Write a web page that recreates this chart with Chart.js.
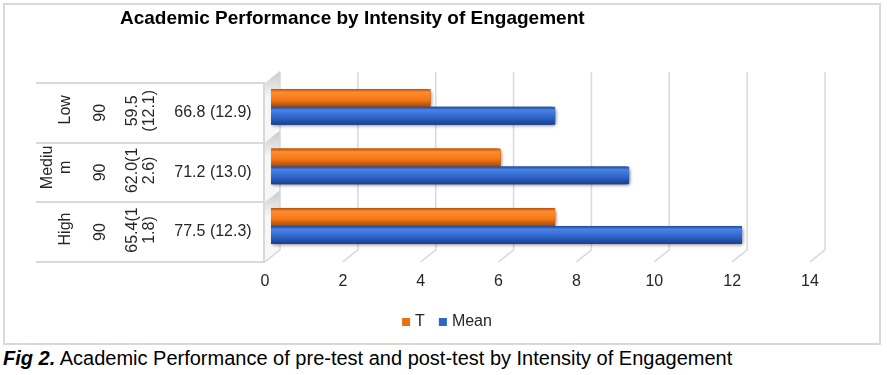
<!DOCTYPE html>
<html>
<head>
<meta charset="utf-8">
<script src="https://cdn.jsdelivr.net/npm/chart.js@4.4.0/dist/chart.umd.min.js"></script>
<style>
  body { margin: 0; width: 887px; height: 375px; background: #fff; position: relative; overflow: hidden; font-family: Arial, "Liberation Sans", sans-serif; }
  #frame { position: absolute; left: 3px; top: 3px; width: 874px; height: 338px; border: 2px solid #d9d9d9; }
  #title { position: absolute; left: 120px; top: 8px; font-size: 19px; line-height: 19px; font-weight: bold; color: #000; white-space: nowrap; }
  #caption { position: absolute; left: 3px; top: 348px; font-size: 20px; line-height: 20px; color: #000; white-space: nowrap; }
  #caption b { font-style: italic; }
  canvas { position: absolute; left: 0; top: 0; }
</style>
</head>
<body>
<div id="frame"></div>
<canvas id="mycanvas" width="887" height="345"></canvas>
<div id="title">Academic Performance by Intensity of Engagement</div>
<div id="caption"><b>Fig 2.</b> Academic Performance of pre-test and post-test by Intensity of Engagement</div>
<script>
// data
var groups = ['Low', 'Medium', 'High'];
var groupLines = [['Low'], ['Mediu', 'm'], ['High']];
var nValues = ['90', '90', '90'];
var preTest = [['59.5', '(12.1)'], ['62.0(1', '2.6)'], ['65.4(1', '1.8)']];
var postTest = ['66.8 (12.9)', '71.2 (13.0)', '77.5 (12.3)'];
var tValues = [4.1, 5.9, 7.3];
var meanValues = [7.3, 9.2, 12.1];
var xMin = 0, xMax = 14, xStep = 2;

// fake 3d depth offsets (front / back of the box)
var FRONT_DX = -6, FRONT_DY = 6, BACK_DX = 9, BACK_DY = -6;
var textColor = '#262626';
var gridColor = '#d9d9d9';
var font16 = { family: 'Arial, "Liberation Sans", sans-serif', size: 16 };

function vText(c, str, xBase, yMid) {
    c.save();
    c.translate(xBase, yMid);
    c.rotate(-Math.PI / 2);
    c.textAlign = 'center';
    c.textBaseline = 'alphabetic';
    c.fillText(str, 0, 0);
    c.restore();
}

var boxPlugin = {
    id: 'box3d',
    beforeDatasetsDraw: function(chart) {
        var c = chart.ctx, xs = chart.scales.x, ys = chart.scales.y, area = chart.chartArea;
        var band = (ys.bottom - ys.top) / groups.length;
        var x0 = xs.getPixelForValue(xMin);
        c.save();
        // left wall, shaded at the top of each band
        for (var i = 0; i < groups.length; i++) {
            var t = ys.top + band * i, b = t + band;
            var g = c.createLinearGradient(0, t - 6, 0, t + 20);
            g.addColorStop(0, '#c8c8c8');
            g.addColorStop(1, '#f7f7f7');
            c.fillStyle = g;
            c.beginPath();
            c.moveTo(x0 + FRONT_DX, t + FRONT_DY);
            c.lineTo(x0 + BACK_DX, t + BACK_DY);
            c.lineTo(x0 + BACK_DX, b + BACK_DY);
            c.lineTo(x0 + FRONT_DX, b + FRONT_DY);
            c.closePath();
            c.fill();
        }
        // back gridlines with floor ticks
        c.strokeStyle = gridColor;
        c.lineWidth = 1.5;
        for (var v = xMin; v <= xMax; v += xStep) {
            var px = xs.getPixelForValue(v);
            c.beginPath();
            c.moveTo(px + BACK_DX, area.top - 5);
            c.lineTo(px + BACK_DX, area.bottom + BACK_DY);
            c.lineTo(px + FRONT_DX, area.bottom + FRONT_DY);
            c.stroke();
        }
        // category table on the left
        c.lineWidth = 2;
        for (var k = 0; k <= groups.length; k++) {
            var yy = Math.round(ys.top + band * k + FRONT_DY);
            c.beginPath();
            c.moveTo(36, yy);
            c.lineTo(x0 + FRONT_DX, yy);
            c.stroke();
        }
        c.beginPath();
        c.moveTo(x0 + FRONT_DX - 1, ys.top + FRONT_DY);
        c.lineTo(x0 + FRONT_DX - 1, ys.bottom + FRONT_DY);
        c.stroke();

        c.fillStyle = textColor;
        c.font = '16px Arial, "Liberation Sans", sans-serif';
        for (var j = 0; j < groups.length; j++) {
            var cy = ys.getPixelForValue(j) + FRONT_DY;
            var gl = groupLines[j];
            if (gl.length === 1) {
                vText(c, gl[0], 70, cy - 3);
            } else {
                vText(c, gl[0], 52, cy - 5);
                vText(c, gl[1], 70, cy - 5);
            }
            vText(c, nValues[j], 105, cy);
            vText(c, preTest[j][0], 137, cy - 2);
            vText(c, preTest[j][1], 154, cy - 2);
            c.textAlign = 'center';
            c.textBaseline = 'middle';
            c.fillText(postTest[j], 213, cy);
        }
        c.restore();
    },
    afterDatasetsDraw: function(chart) {
        var c = chart.ctx;
        var looks = [
            ['#b2500c', '#ff8c2e', '#f57816', '#a9490a'],
            ['#1c4796', '#4a82e6', '#2f63c8', '#18408a']
        ];
        chart.data.datasets.forEach(function(ds, di) {
            var stops = looks[di];
            chart.getDatasetMeta(di).data.forEach(function(bar) {
                var p = bar.getProps(['x', 'y', 'base', 'height'], true);
                var top = p.y - p.height / 2, bot = p.y + p.height / 2;
                var left = p.base, right = p.x, r = 4;
                var g = c.createLinearGradient(0, top, 0, bot);
                g.addColorStop(0, stops[0]);
                g.addColorStop(0.18, stops[1]);
                g.addColorStop(0.6, stops[2]);
                g.addColorStop(1, stops[3]);
                c.save();
                c.shadowColor = 'rgba(0,0,0,0.35)';
                c.shadowBlur = 3;
                c.shadowOffsetX = 1.5;
                c.shadowOffsetY = 1.5;
                c.fillStyle = g;
                c.beginPath();
                c.moveTo(left, top);
                c.lineTo(right - r, top);
                c.quadraticCurveTo(right, top, right, top + r);
                c.lineTo(right, bot - r);
                c.quadraticCurveTo(right, bot, right - r, bot);
                c.lineTo(left, bot);
                c.closePath();
                c.fill();
                c.restore();
            });
        });
    }
};

var ctx = document.getElementById('mycanvas');
var myChart = new Chart(ctx, {
    type: 'bar',
    data: {
        labels: groups,
        datasets: [{
            label: 'T',
            data: tValues,
            backgroundColor: '#e8700f',
            borderWidth: 0
        }, {
            label: 'Mean',
            data: meanValues,
            backgroundColor: '#2f63c8',
            borderWidth: 0
        }]
    },
    options: {
        indexAxis: 'y',
        responsive: false,
        animation: false,
        layout: { padding: { left: 10, right: 0, top: 77, bottom: 5 } },
        datasets: { bar: { categoryPercentage: 0.6, barPercentage: 1.0 } },
        scales: {
            x: {
                min: xMin,
                max: xMax,
                grid: { display: false },
                border: { display: false },
                ticks: {
                    stepSize: xStep,
                    padding: 8,
                    labelOffset: FRONT_DX,
                    color: textColor,
                    font: font16
                },
                afterFit: function(scale) { scale.height -= 2; }
            },
            // left space holds the category table, drawn by the plugin
            y: {
                grid: { display: false },
                border: { display: false },
                ticks: { display: false },
                afterFit: function(scale) { scale.width = 261; }
            },
            yRight: {
                type: 'linear',
                position: 'right',
                grid: { display: false },
                border: { display: false },
                ticks: { display: false },
                afterFit: function(scale) { scale.width = 71; }
            }
        },
        plugins: {
            legend: {
                position: 'bottom',
                labels: {
                    usePointStyle: true,
                    pointStyle: 'rect',
                    boxWidth: 2,
                    boxHeight: 8,
                    padding: 17,
                    color: textColor,
                    font: font16
                }
            },
            tooltip: { enabled: false }
        }
    },
    plugins: [boxPlugin]
});
</script>
</body>
</html>
